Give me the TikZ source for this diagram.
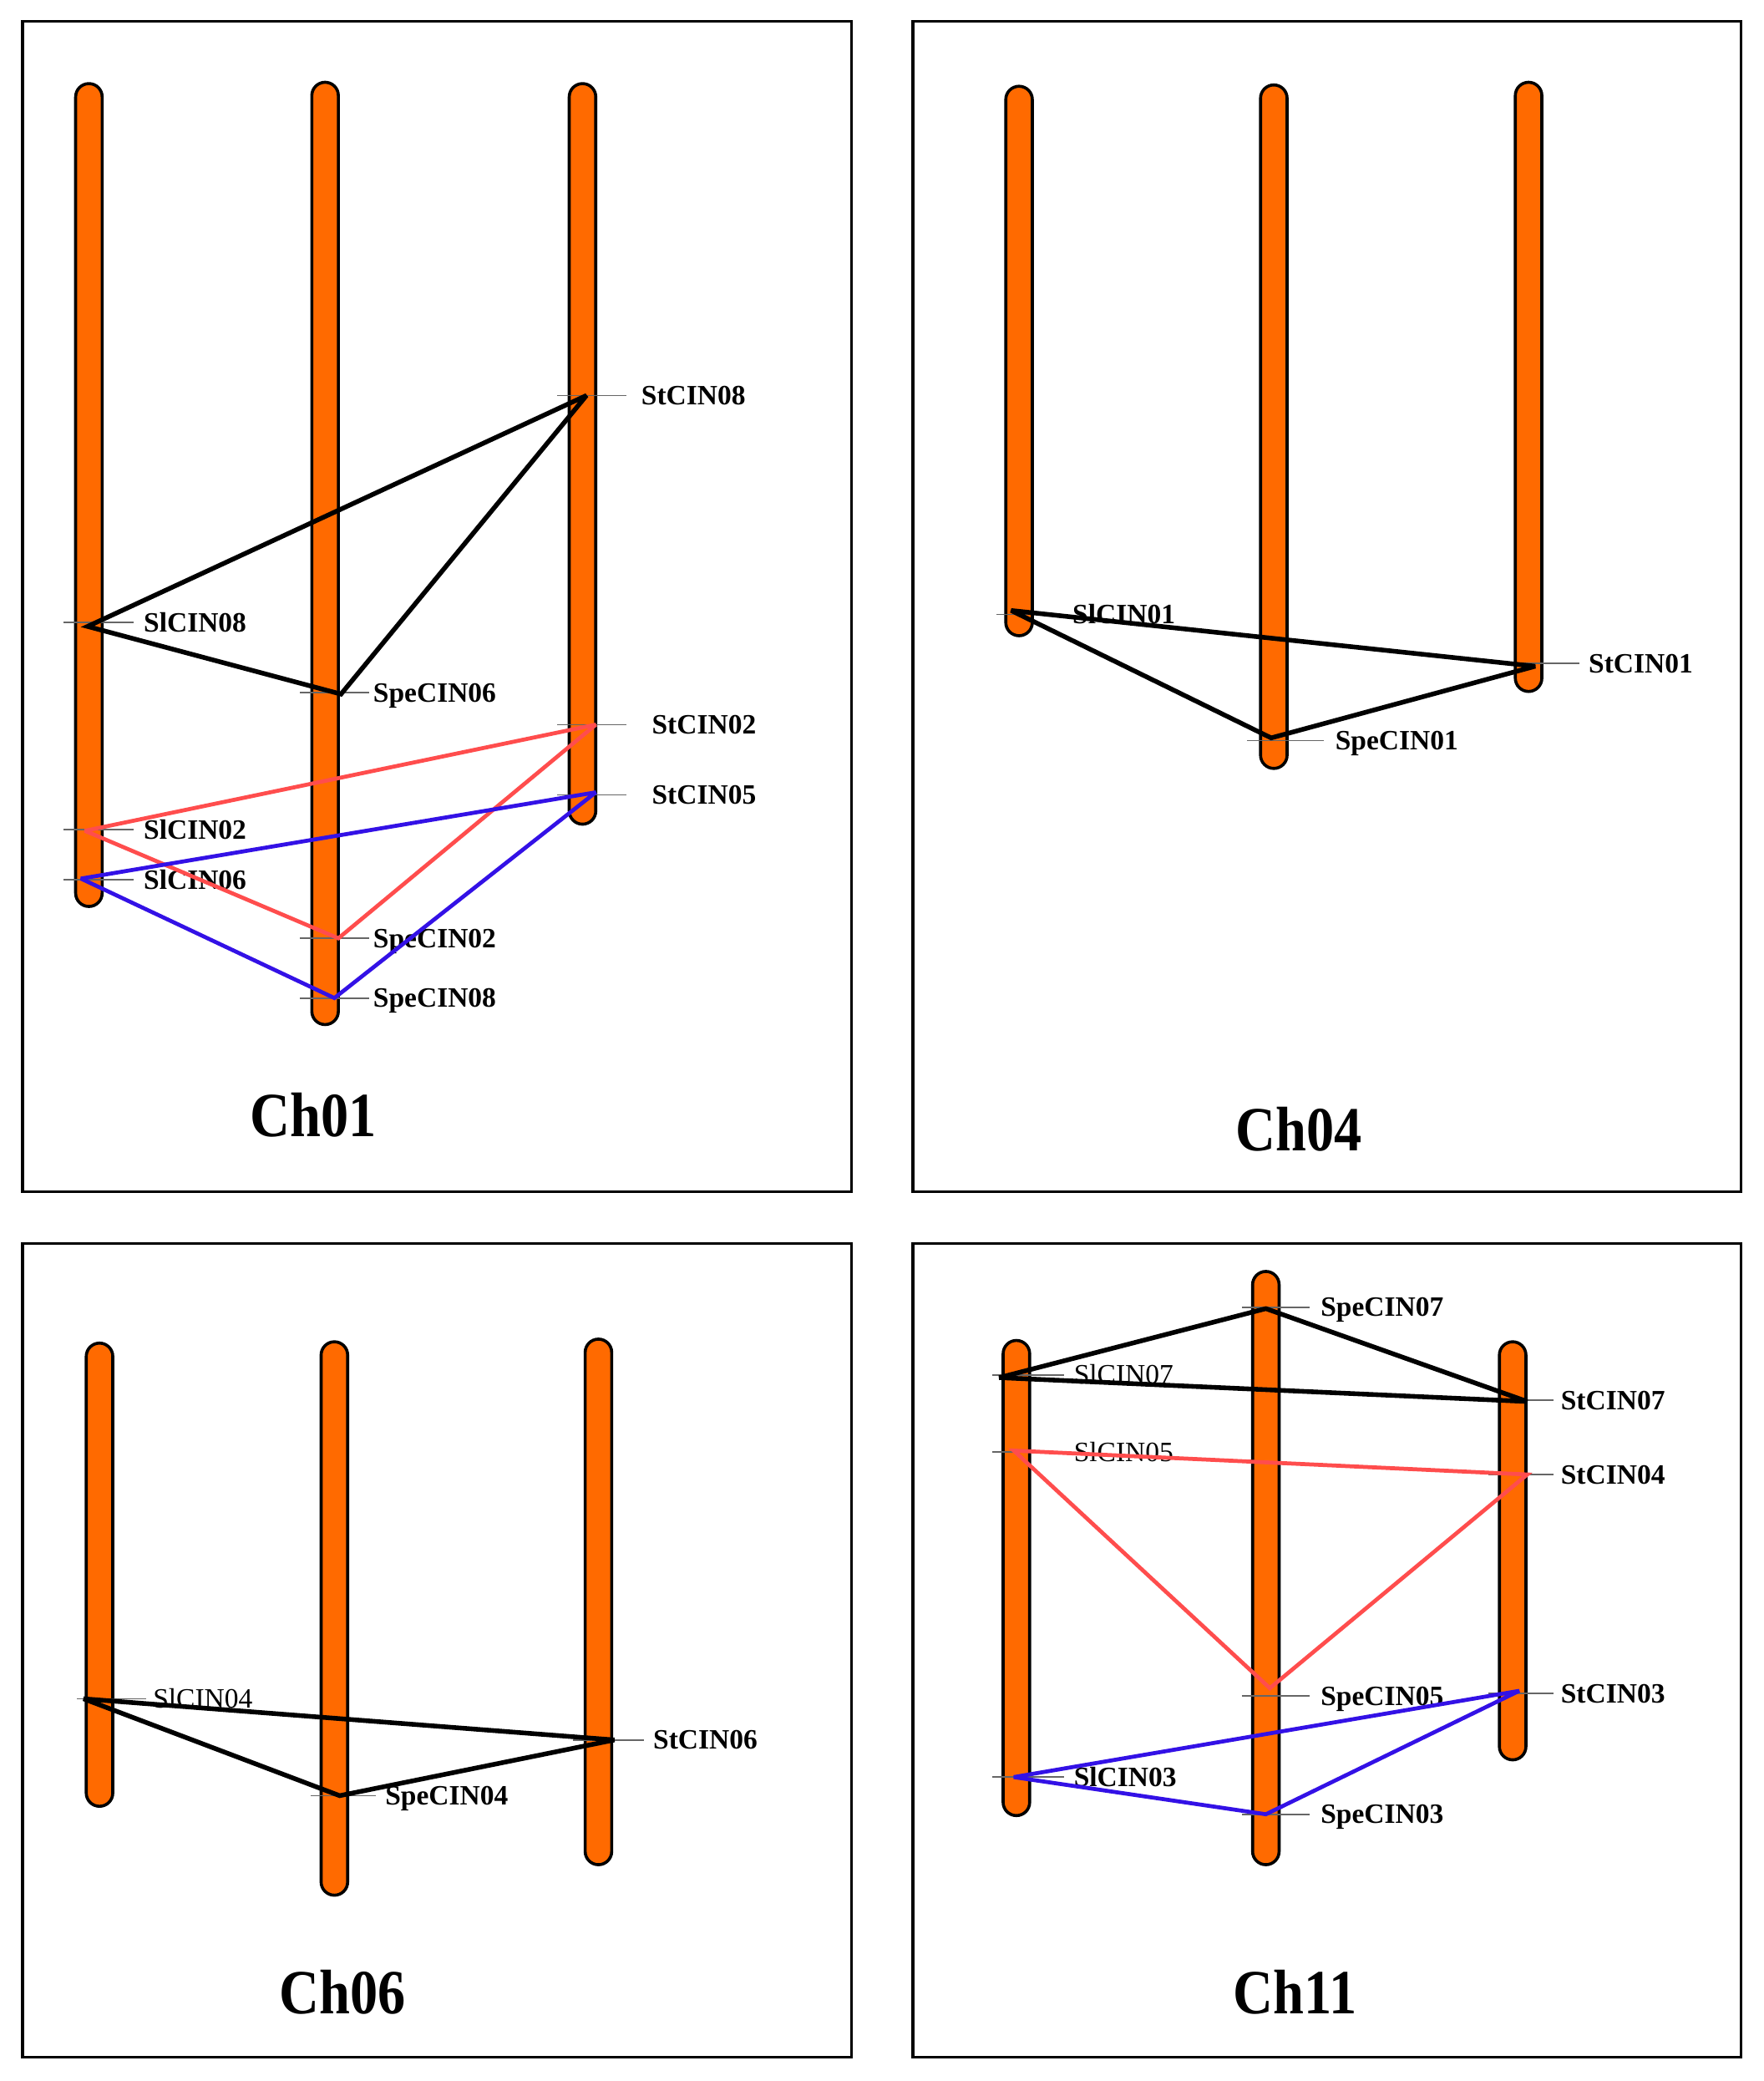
\documentclass[tikz,border=0pt]{standalone}
\usepackage{fontspec}
\setmainfont{Liberation Serif}
\definecolor{chromorange}{RGB}{255,106,0}
\definecolor{redlink}{RGB}{255,77,77}
\definecolor{bluelink}{RGB}{51,17,230}
\tikzset{
  panel/.style={draw=black, line width=1.1pt},
  chr/.style={draw=black, fill=chromorange, line width=1.3pt, rounded corners=0.2cm},
  genetick/.style={draw=black!60, line width=0.6pt},
  lbl/.style={anchor=base west, inner sep=0pt, font=\fontsize{12}{14}\selectfont\bfseries},
  lblr/.style={anchor=base west, inner sep=0pt, font=\fontsize{12}{14}\selectfont},
  chtitle/.style={font=\fontsize{27}{30}\selectfont\bfseries, xscale=0.88},
  blklink/.style={draw=black, line width=2pt, line join=miter, miter limit=3},
  redl/.style={draw=redlink, line width=1.7pt, line join=miter, miter limit=3},
  bluel/.style={draw=bluelink, line width=1.7pt, line join=miter, miter limit=3},
}
% #1 label style, #2 name, #3 tick x1, #4 tick x2, #5 y, #6 px, #7 py, #8 label x, #9 text
\newcommand\gene[9][lbl]{%
  \draw[genetick] (#3,#5) -- (#4,#5);
  \coordinate (#2) at (#6,#7);
  \node[#1] (#2-l) at (#8,#5+7) {#9};
}
\begin{document}
\begin{tikzpicture}[x=0.02cm, y=-0.02cm]
\useasboundingbox (0,0) rectangle (1329,1568);
\fill[white] (0,0) rectangle (1329,1568);
% panels
\draw[panel] (17,16) rectangle (642,898);
\draw[panel] (688,16) rectangle (1312,898);
\draw[panel] (17,937) rectangle (642,1550);
\draw[panel] (688,937) rectangle (1312,1550);
% chromosomes Ch01
\draw[chr] (57,63) rectangle (77,683);
\draw[chr] (235,62) rectangle (255,772);
\draw[chr] (429,63) rectangle (449,621);
% Ch04
\draw[chr] (758,65) rectangle (778,479);
\draw[chr] (950,64) rectangle (970,579);
\draw[chr] (1142,62) rectangle (1162,521);
% Ch06
\draw[chr] (65,1012) rectangle (85,1361);
\draw[chr] (242,1011) rectangle (262,1428);
\draw[chr] (441,1009) rectangle (461,1405);
% Ch11
\draw[chr] (756,1010) rectangle (776,1368);
\draw[chr] (944,958) rectangle (964,1405);
\draw[chr] (1130,1011) rectangle (1150,1326);
% genes Ch01
\gene{sl08}{48}{101}{469}{66}{472}{108}{SlCIN08}
\gene{sl02}{48}{101}{625}{64}{626}{108}{SlCIN02}
\gene{sl06}{48}{101}{663}{61}{662}{108}{SlCIN06}
\gene{spe06}{226}{278}{522}{257}{523}{281}{SpeCIN06}
\gene{spe02}{226}{278}{707}{255}{707}{281}{SpeCIN02}
\gene{spe08}{226}{278}{752}{252}{752}{281}{SpeCIN08}
\gene{st08}{420}{472}{298}{442}{298}{483}{StCIN08}
\gene{st02}{420}{472}{546}{449}{546}{491}{StCIN02}
\gene{st05}{420}{472}{599}{449}{597}{491}{StCIN05}
% genes Ch04
\gene{sl01}{751}{800}{463}{762}{460}{808}{SlCIN01}
\gene{spe01}{940}{998}{558}{958}{556}{1006}{SpeCIN01}
\gene{st01}{1140}{1190}{500}{1157}{502}{1197}{StCIN01}
% genes Ch06
\gene[lblr]{sl04}{58}{110}{1280}{63}{1280}{115}{SlCIN04}
\gene{spe04}{234}{283}{1353}{256}{1353}{290}{SpeCIN04}
\gene{st06}{432}{485}{1311}{463}{1311}{492}{StCIN06}
% genes Ch11
\gene{spe07}{936}{987}{985}{954}{986}{995}{SpeCIN07}
\gene[lblr]{sl07}{748}{802}{1036}{753}{1038}{809}{SlCIN07}
\gene{st07}{1122}{1171}{1055}{1151}{1056}{1176}{StCIN07}
\gene[lblr]{sl05}{748}{802}{1094}{764}{1093}{809}{SlCIN05}
\gene{st04}{1122}{1171}{1111}{1151}{1111}{1176}{StCIN04}
\gene{spe05}{936}{987}{1278}{957}{1272}{995}{SpeCIN05}
\gene{st03}{1122}{1171}{1276}{1145}{1274}{1176}{StCIN03}
\gene{sl03}{748}{802}{1339}{764}{1339}{809}{SlCIN03}
\gene{spe03}{936}{987}{1367}{954}{1367}{995}{SpeCIN03}
% connectors Ch01
\draw[blklink] (sl08) -- (st08) -- (spe06) -- cycle;
\draw[redl] (sl02) -- (st02) -- (spe02) -- cycle;
\draw[bluel] (sl06) -- (st05) -- (spe08) -- cycle;
% Ch04
\draw[blklink] (sl01) -- (st01) -- (spe01) -- cycle;
% Ch06
\draw[blklink] (sl04) -- (st06) -- (spe04) -- cycle;
% Ch11
\draw[blklink] (sl07) -- (spe07) -- (st07) -- cycle;
\draw[redl] (sl05) -- (st04) -- (spe05) -- cycle;
\draw[bluel] (sl03) -- (st03) -- (spe03) -- cycle;
% titles
\node[chtitle] (t01) at (236,840) {Ch01};
\node[chtitle] (t04) at (979,851) {Ch04};
\node[chtitle] (t06) at (258,1501) {Ch06};
\node[chtitle] (t11) at (976,1501) {Ch11};
\end{tikzpicture}
\end{document}
